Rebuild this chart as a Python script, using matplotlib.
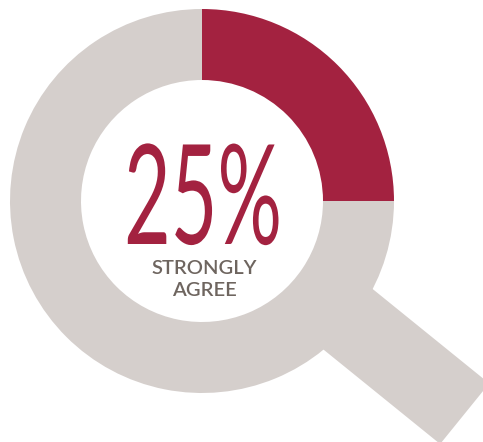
import matplotlib
matplotlib.use("Agg")
import numpy as np
from matplotlib import pyplot as plt
from matplotlib import patheffects
from matplotlib.patches import Rectangle
from matplotlib.transforms import Affine2D

# data
shares = [25, 75]
share_colors = ["#A32240", "#D5CFCC"]
big_label = "25%"
small_label = "STRONGLY\nAGREE"

W, H = 483, 442
cx, cy = 202, H - 201
outer_r, ring_w = 192, 71


class SqueezeX(patheffects.AbstractPathEffect):
    """Compress glyphs horizontally around a data x position."""

    def __init__(self, ax, x_data, sx):
        super().__init__()
        self.ax = ax
        self.x_data = x_data
        self.sx = sx

    def draw_path(self, renderer, gc, tpath, affine, rgbFace=None):
        px = self.ax.transData.transform((self.x_data, 0))[0]
        squeeze = Affine2D().translate(-px, 0).scale(self.sx, 1).translate(px, 0)
        renderer.draw_path(gc, tpath, affine + squeeze, rgbFace)


fig = plt.figure(figsize=(W / 100, H / 100), dpi=100)
ax = fig.add_axes([0, 0, 1, 1])

# handle of the magnifier
ang = np.deg2rad(-39)
u = np.array([np.cos(ang), np.sin(ang)])
n = np.array([-np.sin(ang), np.cos(ang)])
half_w, d0, d1 = 39, 150, 338
corner = np.array([cx, cy]) + d0 * u - half_w * n
ax.add_patch(Rectangle(corner, d1 - d0, 2 * half_w, angle=np.rad2deg(ang),
                       rotation_point="xy", color=share_colors[1], lw=0))

ax.pie(shares, colors=share_colors, radius=outer_r, center=(cx, cy),
       startangle=90, counterclock=False,
       wedgeprops=dict(width=ring_w, linewidth=0))

ax.text(203, H - 244, big_label, ha="center", va="baseline",
        fontsize=100, family="Lato", weight="normal", color=share_colors[0],
        path_effects=[SqueezeX(ax, 203, 0.58)])
ax.text(204, H - 296, small_label, ha="center", va="baseline",
        fontsize=14.5, family="Lato", weight="semibold", color="#6E655F",
        linespacing=1.35, multialignment="center")

ax.set_xlim(0, W)
ax.set_ylim(0, H)
ax.set_aspect("equal")
ax.set_axis_off()
fig.savefig("out.png", dpi=100)
